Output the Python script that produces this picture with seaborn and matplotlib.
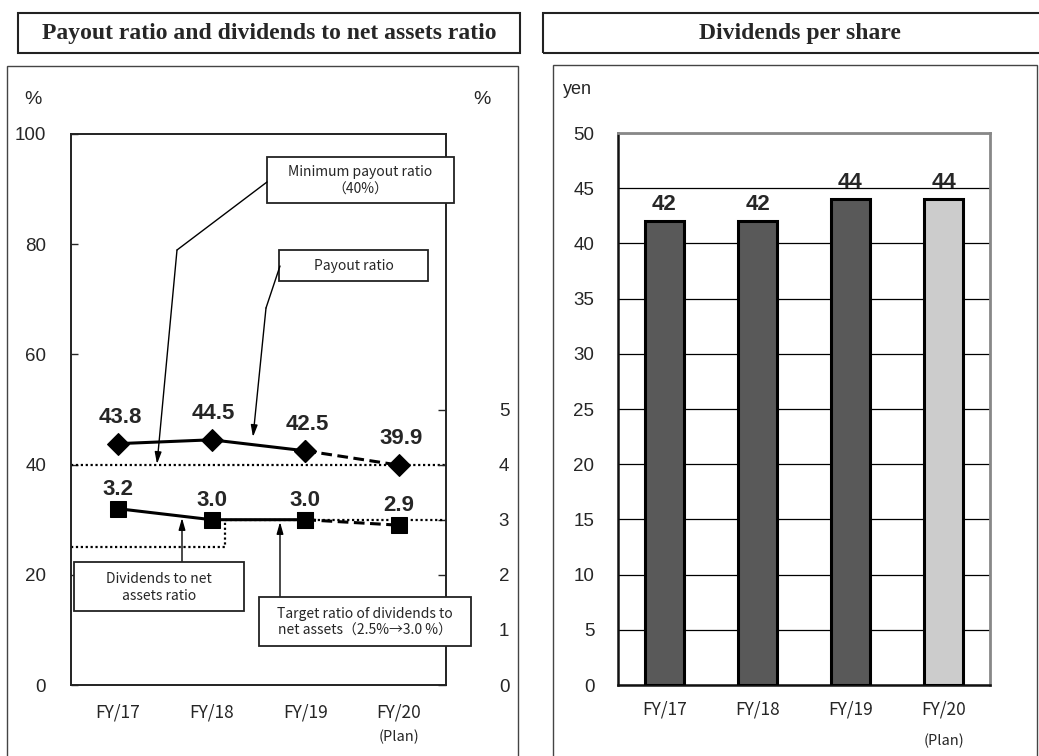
import numpy as np
import pandas as pd
import matplotlib.pyplot as plt
import matplotlib.patches as mpatches
from matplotlib.lines import Line2D
import seaborn as sns

# ------------------------
# Data
# ------------------------
years = ["FY/17", "FY/18", "FY/19", "FY/20"]
payout_ratio = [43.8, 44.5, 42.5, 39.9]          # %, left axis
doe_ratio = [3.2, 3.0, 3.0, 2.9]                 # %, right axis
payout_labels = ["43.8", "44.5", "42.5", "39.9"]
doe_labels = ["3.2", "3.0", "3.0", "2.9"]
min_payout = 40
doe_target_old = 2.5
doe_target_new = 3.0
doe_target_switch = 1.14                          # x position where target changes
dps = [42, 42, 44, 44]                            # yen
dps_labels = ["42", "42", "44", "44"]
bar_colors = ["#595959", "#595959", "#595959", "#cccccc"]

W, H = 1039, 756
sns.set_style("white")
plt.rcParams["font.family"] = ["Liberation Sans", "DejaVu Sans"]
JP = ["Noto Sans CJK JP", "DejaVu Sans"]
SERIF = ["Liberation Serif", "DejaVu Serif"]

fig = plt.figure(figsize=(W / 100, H / 100), dpi=100)


def fx(x, y):
    return x / W, 1 - y / H


def box(x0, y0, x1, y1, lw=1.2, ec="#222222"):
    fig.add_artist(mpatches.Rectangle(fx(x0, y1), (x1 - x0) / W, (y1 - y0) / H,
                                      transform=fig.transFigure, fill=False,
                                      lw=lw, ec=ec, zorder=5))


# ------------------------
# Panel frames and titles
# ------------------------
box(18, 13, 520, 53, lw=1.5)
box(543, 13, 1060, 53, lw=1.5)
box(7, 66, 518, 770, lw=1.0, ec="#444444")
box(553, 65, 1037, 770, lw=1.0, ec="#444444")
fig.text(*fx(269, 34), "Payout ratio and dividends to net assets ratio", family=SERIF,
         weight="bold", size=17, ha="center", va="center")
fig.text(*fx(800, 34), "Dividends per share", family=SERIF,
         weight="bold", size=17, ha="center", va="center")

# ------------------------
# Left: payout ratio / DOE
# ------------------------
x = np.arange(len(years))
ax = fig.add_axes([71 / W, 1 - 685 / H, 375 / W, 551 / H])
ax2 = ax.twinx()

ax.axhline(min_payout, color="black", lw=1.6, ls=(0, (1, 1.2)), zorder=1)
sns.lineplot(x=x[:3], y=payout_ratio[:3], ax=ax, color="black", lw=2.2,
             marker="D", markersize=11, mec="black", sort=False, zorder=3)
sns.lineplot(x=x[2:], y=payout_ratio[2:], ax=ax, color="black", lw=2.2,
             marker="D", markersize=11, mec="black", sort=False, zorder=3,
             linestyle=(0, (3.5, 1.8)))

ax2.plot([-0.5, doe_target_switch, doe_target_switch, 3.5],
         [doe_target_old, doe_target_old, doe_target_new, doe_target_new],
         color="black", lw=1.6, ls=(0, (1, 1.2)), zorder=1)
sns.lineplot(x=x[:3], y=doe_ratio[:3], ax=ax2, color="black", lw=2.2,
             marker="s", markersize=11, mec="black", sort=False, zorder=3)
sns.lineplot(x=x[2:], y=doe_ratio[2:], ax=ax2, color="black", lw=2.2,
             marker="s", markersize=11, mec="black", sort=False, zorder=3,
             linestyle=(0, (3.5, 1.8)))

for i, (v, t) in enumerate(zip(payout_ratio, payout_labels)):
    ax.annotate(t, (x[i], v), xytext=(2, 21), textcoords="offset pixels",
                ha="center", va="baseline", size=16, weight="bold")
for i, (v, t) in enumerate(zip(doe_ratio, doe_labels)):
    ax2.annotate(t, (x[i], v), xytext=(0, 14), textcoords="offset pixels",
                 ha="center", va="baseline", size=16, weight="bold")

ax.set_xlim(-0.5, 3.5)
ax.set_ylim(0, 100)
ax2.set_ylim(0, 10)
ax.set_yticks([0, 20, 40, 60, 80, 100])
ax2.set_yticks([0, 1, 2, 3, 4, 5])
ax.set_xticks(x)
ax.set_xticklabels(years, family=JP, size=12.5)
ax.set_xticks([0.5, 1.5, 2.5], minor=True)
ax.tick_params(axis="x", which="major", length=0, pad=13)
ax.tick_params(axis="x", which="minor", direction="in", length=5, width=1)
ax.tick_params(axis="y", direction="in", length=5, width=1, labelsize=13.5, pad=18)
ax2.tick_params(axis="y", direction="in", length=6, width=1, labelsize=13.5, pad=38)
ax.set_xlabel("")
ax.set_ylabel("")
ax2.set_ylabel("")
for a in (ax, ax2):
    for s in a.spines.values():
        s.set_color("#222222")
        s.set_linewidth(1.2)
ax.annotate("(Plan)", xy=(3, 0), xycoords=("data", "axes fraction"),
            xytext=(0, -52), textcoords="offset pixels", ha="center", va="center",
            family=JP, size=10.5)

fig.text(*fx(33, 100), "%", size=14, ha="center", va="center")
fig.text(*fx(482, 100), "%", size=14, ha="center", va="center")

# callout boxes
callouts = [
    (267, 157, 454, 203, "Minimum payout ratio\n（40%）"),
    (279, 250, 428, 281, "Payout ratio"),
    (74, 562, 244, 611, "Dividends to net\nassets ratio"),
    (259, 597, 471, 646, "Target ratio of dividends to\nnet assets（2.5%→3.0 %）"),
]
for x0, y0, x1, y1, t in callouts:
    fig.add_artist(mpatches.Rectangle(fx(x0, y1), (x1 - x0) / W, (y1 - y0) / H,
                                      transform=fig.transFigure, fc="white",
                                      ec="#222222", lw=1.3, zorder=6))
    fig.text(*fx((x0 + x1) / 2, (y0 + y1) / 2 + 1), t, family=JP, size=10,
             ha="center", va="center", linespacing=1.3, zorder=7)

leaders = [
    [(267, 182), (177, 250), (157, 464)],
    [(280, 266), (266, 308), (253, 437)],
    [(182, 562), (182, 518)],
    [(280, 597), (280, 522)],
]
for pts in leaders:
    if len(pts) > 2:
        xs = [p[0] / W for p in pts[:-1]]
        ys = [1 - p[1] / H for p in pts[:-1]]
        fig.add_artist(Line2D(xs, ys, transform=fig.transFigure, color="black",
                              lw=1, zorder=6))
    (sx, sy), (ex, ey) = pts[-2], pts[-1]
    ax.annotate("", xy=(ex, H - ey), xycoords="figure pixels",
                xytext=(sx, H - sy), textcoords="figure pixels",
                arrowprops=dict(arrowstyle="-|>,head_length=0.7,head_width=0.2",
                                color="black", lw=1, shrinkA=0, shrinkB=0),
                zorder=6, annotation_clip=False)

# ------------------------
# Right: dividends per share
# ------------------------
bx = fig.add_axes([618 / W, 1 - 685 / H, 372 / W, 552 / H])
dps_df = pd.DataFrame({"year": years, "dps": dps})
sns.barplot(data=dps_df, x="year", y="dps", hue="year", palette=bar_colors,
            width=0.41, edgecolor="black", linewidth=2.2, legend=False, ax=bx,
            zorder=3)
for i, (v, t) in enumerate(zip(dps, dps_labels)):
    bx.annotate(t, (i, v), xytext=(0, 11), textcoords="offset pixels",
                ha="center", va="baseline", size=16, weight="bold")

bx.set_xlim(-0.5, 3.5)
bx.set_ylim(0, 50)
bx.set_yticks(np.arange(0, 51, 5))
bx.yaxis.grid(True, color="black", lw=0.9)
bx.set_axisbelow(True)
bx.set_xticks(range(4))
bx.set_xticklabels(years, family=JP, size=12.5)
bx.set_xticks([0.5, 1.5, 2.5], minor=True)
bx.tick_params(axis="x", which="major", length=0, pad=11)
bx.tick_params(axis="x", which="minor", direction="in", length=5, width=1)
bx.tick_params(axis="y", length=0, labelsize=13.5, pad=17)
bx.set_xlabel("")
bx.set_ylabel("")
for k in ("left", "bottom"):
    bx.spines[k].set_color("#111111")
    bx.spines[k].set_linewidth(1.8)
for k in ("top", "right"):
    bx.spines[k].set_color("#888888")
    bx.spines[k].set_linewidth(2)
bx.annotate("(Plan)", xy=(3, 0), xycoords=("data", "axes fraction"),
            xytext=(0, -56), textcoords="offset pixels", ha="center", va="center",
            family=JP, size=10.5)
fig.text(*fx(577, 90), "yen", size=13, ha="center", va="center")

fig.savefig("out.png", dpi=100)
